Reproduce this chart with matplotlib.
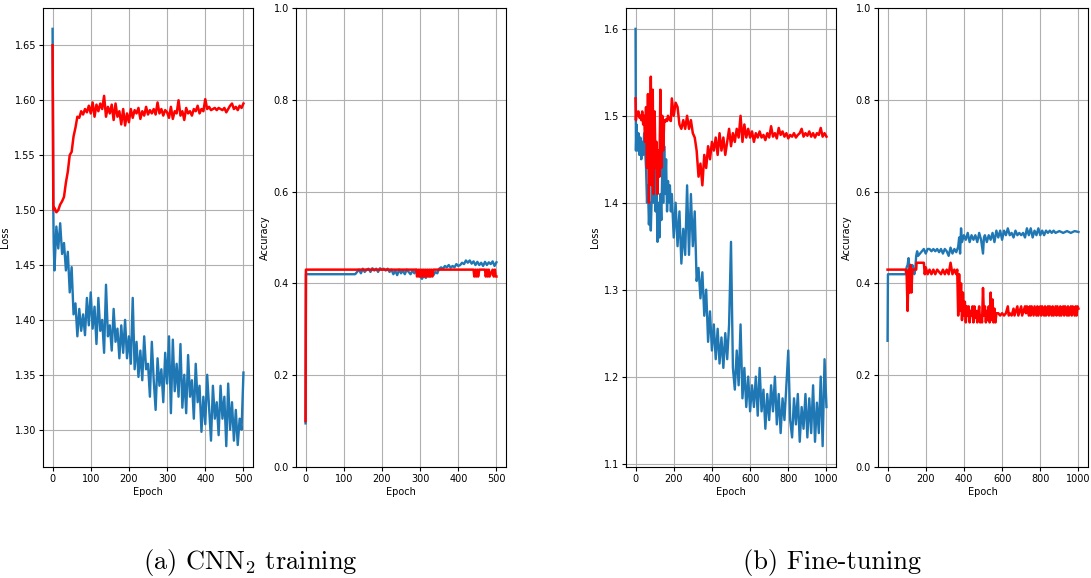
import matplotlib
matplotlib.use("Agg")
import matplotlib.pyplot as plt
from matplotlib.ticker import FormatStrFormatter

# (a) CNN2 training, loss
cnn_loss_head_x = [0, 1, 2, 3]
cnn_train_loss_head = [1.665, 1.60, 1.50, 1.47]
cnn_val_loss_head = [1.65, 1.58, 1.505, 1.50]
cnn_loss_step = 5
cnn_train_loss = [
    1.445, 1.485, 1.465, 1.488, 1.460, 1.470, 1.445, 1.462, 1.425, 1.448,
    1.405, 1.415, 1.385, 1.410, 1.390, 1.405, 1.386, 1.420, 1.395, 1.425,
    1.392, 1.412, 1.378, 1.420, 1.390, 1.400, 1.370, 1.432, 1.385, 1.395,
    1.372, 1.410, 1.380, 1.392, 1.365, 1.395, 1.370, 1.400, 1.365, 1.385,
    1.360, 1.420, 1.355, 1.380, 1.348, 1.372, 1.345, 1.385, 1.355, 1.360,
    1.330, 1.380, 1.345, 1.318, 1.365, 1.340, 1.355, 1.325, 1.370, 1.342,
    1.385, 1.315, 1.382, 1.335, 1.360, 1.330, 1.378, 1.320, 1.350, 1.315,
    1.368, 1.330, 1.345, 1.310, 1.360, 1.325, 1.340, 1.298, 1.330, 1.305,
    1.350, 1.320, 1.290, 1.340, 1.310, 1.325, 1.295, 1.340, 1.310, 1.330,
    1.285, 1.342, 1.300, 1.325, 1.290, 1.318, 1.286, 1.310, 1.300, 1.352,
]
cnn_val_loss = [
    1.502, 1.498, 1.500, 1.505, 1.508, 1.512, 1.525, 1.535, 1.550, 1.553,
    1.567, 1.575, 1.585, 1.584, 1.590, 1.587, 1.592, 1.589, 1.595, 1.588,
    1.598, 1.585, 1.596, 1.590, 1.597, 1.592, 1.604, 1.585, 1.594, 1.588,
    1.596, 1.582, 1.597, 1.585, 1.590, 1.578, 1.592, 1.577, 1.588, 1.580,
    1.592, 1.584, 1.591, 1.588, 1.593, 1.583, 1.590, 1.586, 1.594, 1.587,
    1.591, 1.588, 1.592, 1.587, 1.598, 1.588, 1.592, 1.586, 1.591, 1.589,
    1.584, 1.594, 1.583, 1.590, 1.588, 1.600, 1.586, 1.590, 1.582, 1.593,
    1.588, 1.590, 1.586, 1.592, 1.590, 1.595, 1.588, 1.592, 1.590, 1.601,
    1.592, 1.594, 1.591, 1.592, 1.593, 1.591, 1.593, 1.592, 1.591, 1.593,
    1.589, 1.592, 1.595, 1.597, 1.592, 1.594, 1.591, 1.595, 1.593, 1.597,
]

# (a) CNN2 training, accuracy
cnn_train_acc_x = [0, 1, 130] + list(range(135, 501, 5))
cnn_train_acc = [
    0.095, 0.42, 0.42,
    0.425, 0.430, 0.422, 0.432, 0.425, 0.430, 0.432, 0.425, 0.433, 0.428,
    0.432, 0.425, 0.433, 0.430, 0.432, 0.428, 0.432, 0.425, 0.430, 0.420,
    0.428, 0.418, 0.430, 0.422, 0.428, 0.420, 0.430, 0.425, 0.420, 0.428,
    0.422, 0.430, 0.420, 0.415, 0.410, 0.418, 0.412, 0.420, 0.415, 0.422,
    0.418, 0.425, 0.422, 0.432, 0.435, 0.432, 0.438, 0.435, 0.440, 0.434,
    0.438, 0.435, 0.442, 0.438, 0.440, 0.445, 0.442, 0.450, 0.445, 0.450,
    0.443, 0.448, 0.440, 0.447, 0.440, 0.445, 0.438, 0.447, 0.440, 0.446,
    0.442, 0.448, 0.438, 0.446,
]
cnn_val_acc_x = [
    0, 1, 290, 292, 295, 297, 300, 302, 305, 307, 310, 312, 315, 317, 320,
    322, 325, 327, 330, 332, 335, 440, 442, 445, 447, 450, 452, 455, 470,
    472, 475, 477, 480, 482, 490, 493, 496, 498, 500,
]
cnn_val_acc = [
    0.10, 0.43, 0.43, 0.415, 0.43, 0.415, 0.43, 0.415, 0.43, 0.415, 0.43,
    0.415, 0.43, 0.415, 0.43, 0.415, 0.43, 0.415, 0.43, 0.415, 0.43, 0.43,
    0.415, 0.43, 0.415, 0.43, 0.415, 0.43, 0.43, 0.415, 0.43, 0.415, 0.43,
    0.415, 0.43, 0.415, 0.43, 0.415, 0.415,
]

# (b) Fine-tuning, loss
ft_loss_x = [0, 2] + list(range(5, 191, 5)) + list(range(200, 1001, 10))
ft_train_loss = [
    1.600, 1.460,
    1.490, 1.460, 1.480, 1.455, 1.475, 1.450, 1.470, 1.455, 1.480, 1.462,
    1.440, 1.400, 1.420, 1.375, 1.400, 1.368, 1.410, 1.460, 1.400, 1.450,
    1.390, 1.420, 1.355, 1.400, 1.360, 1.410, 1.380, 1.440, 1.400, 1.465,
    1.410, 1.450, 1.390, 1.425, 1.400, 1.420, 1.390, 1.410,
    1.360, 1.400, 1.350, 1.390, 1.330, 1.370, 1.340, 1.420, 1.340, 1.410,
    1.350, 1.390, 1.310, 1.325, 1.290, 1.320, 1.270, 1.300, 1.240, 1.275,
    1.230, 1.260, 1.220, 1.255, 1.215, 1.245, 1.210, 1.250, 1.220, 1.260,
    1.355, 1.210, 1.185, 1.230, 1.190, 1.260, 1.175, 1.210, 1.165, 1.200,
    1.160, 1.190, 1.165, 1.200, 1.155, 1.210, 1.160, 1.185, 1.140, 1.180,
    1.150, 1.190, 1.160, 1.200, 1.145, 1.180, 1.135, 1.175, 1.150, 1.190,
    1.230, 1.150, 1.130, 1.175, 1.145, 1.180, 1.125, 1.165, 1.140, 1.180,
    1.130, 1.175, 1.135, 1.190, 1.125, 1.170, 1.135, 1.200, 1.120, 1.220,
    1.165,
]
ft_val_loss = [
    1.520, 1.495,
    1.505, 1.500, 1.505, 1.498, 1.500, 1.495, 1.505, 1.490, 1.500, 1.470,
    1.510, 1.440, 1.525, 1.400, 1.460, 1.545, 1.420, 1.530, 1.410, 1.505,
    1.440, 1.470, 1.410, 1.460, 1.430, 1.530, 1.440, 1.500, 1.460, 1.495,
    1.493, 1.496, 1.494, 1.500, 1.497, 1.495, 1.494, 1.520,
    1.500, 1.515, 1.510, 1.490, 1.485, 1.495, 1.485, 1.500, 1.485, 1.495,
    1.480, 1.475, 1.460, 1.430, 1.445, 1.420, 1.455, 1.440, 1.465, 1.450,
    1.470, 1.460, 1.475, 1.455, 1.480, 1.460, 1.475, 1.455, 1.470, 1.485,
    1.465, 1.480, 1.470, 1.485, 1.475, 1.500, 1.470, 1.490, 1.475, 1.485,
    1.475, 1.482, 1.470, 1.480, 1.475, 1.482, 1.475, 1.478, 1.472, 1.480,
    1.475, 1.488, 1.476, 1.480, 1.474, 1.486, 1.478, 1.482, 1.476, 1.480,
    1.474, 1.478, 1.476, 1.480, 1.475, 1.478, 1.480, 1.485, 1.476, 1.480,
    1.477, 1.482, 1.476, 1.480, 1.475, 1.480, 1.478, 1.486, 1.476, 1.480,
    1.476,
]

# (b) Fine-tuning, accuracy
ft_train_acc_x = [
    0, 2, 95, 100, 105, 110, 115, 120, 125, 130, 140, 145, 150, 155, 160,
    170, 180, 190, 200, 210, 220, 230, 240, 250, 260, 270, 280, 290, 300,
    310, 320, 330, 340, 350, 360, 370, 375, 380, 385, 390, 400, 410, 420,
    430, 440, 450, 460, 470, 480, 490, 500, 505, 510, 520, 530, 540, 550,
    560, 570, 580, 590, 600, 610, 620, 630, 640, 650, 660, 670, 680, 690,
    700, 710, 720, 730, 740, 750, 760, 770, 780, 790, 800, 810, 820, 830,
    840, 850, 860, 870, 880, 900, 920, 940, 960, 980, 1000,
]
ft_train_acc = [
    0.275, 0.42, 0.42, 0.435, 0.44, 0.455, 0.43, 0.44, 0.43, 0.44, 0.42,
    0.43, 0.46, 0.47, 0.46, 0.465, 0.47, 0.475, 0.465, 0.475, 0.475, 0.47,
    0.475, 0.47, 0.475, 0.468, 0.475, 0.465, 0.475, 0.47, 0.46, 0.478,
    0.465, 0.475, 0.468, 0.48, 0.50, 0.465, 0.52, 0.49, 0.505, 0.495, 0.51,
    0.49, 0.505, 0.495, 0.505, 0.49, 0.51, 0.495, 0.465, 0.50, 0.505, 0.49,
    0.505, 0.495, 0.51, 0.49, 0.515, 0.50, 0.515, 0.495, 0.515, 0.505,
    0.52, 0.505, 0.51, 0.50, 0.515, 0.505, 0.51, 0.505, 0.51, 0.50, 0.52,
    0.505, 0.52, 0.50, 0.515, 0.505, 0.52, 0.505, 0.515, 0.505, 0.515,
    0.51, 0.515, 0.51, 0.515, 0.51, 0.514, 0.51, 0.514, 0.51, 0.514, 0.512,
]
ft_val_acc_x = [
    0, 95, 100, 105, 110, 115, 120, 125, 130, 150, 152, 190, 195, 200, 210,
    220, 230, 240, 250, 260, 280, 290, 300, 310, 320, 330, 340, 350, 360,
    365, 370, 375, 380, 385, 390, 395, 400, 405, 410, 415, 420, 425, 430,
    435, 440, 445, 450, 455, 460, 465, 470, 475, 480, 485, 490, 495, 500,
    505, 510, 515, 520, 525, 530, 535, 540, 545, 550, 555, 560, 565, 570,
    580, 590, 600, 610, 620, 630, 635, 640, 650, 660, 665, 680, 685, 700,
    705, 720, 725, 730, 740, 745, 750, 755, 765, 770, 780, 785, 790, 800,
    805, 810, 820, 825, 830, 840, 845, 850, 860, 865, 870, 880, 885, 890,
    900, 905, 910, 920, 925, 930, 940, 945, 950, 960, 965, 970, 980, 985,
    990, 995, 1000,
]
ft_val_acc = [
    0.43, 0.43, 0.42, 0.34, 0.43, 0.38, 0.44, 0.38, 0.43, 0.43, 0.445,
    0.445, 0.42, 0.435, 0.42,
    0.43, 0.42, 0.43, 0.42, 0.43, 0.42, 0.43, 0.42, 0.43, 0.42, 0.445,
    0.42, 0.43, 0.42,
    0.43, 0.33, 0.42, 0.34, 0.40, 0.32, 0.38, 0.33, 0.36, 0.315, 0.35,
    0.33, 0.35, 0.315,
    0.34, 0.33, 0.35, 0.315, 0.35, 0.325, 0.34, 0.315, 0.335, 0.35, 0.315,
    0.33, 0.315, 0.39,
    0.33, 0.35, 0.315, 0.34, 0.32, 0.35, 0.315, 0.38, 0.32, 0.365, 0.315,
    0.345, 0.315, 0.335,
    0.335, 0.33, 0.335, 0.33, 0.335, 0.35, 0.33, 0.335, 0.33, 0.345, 0.33,
    0.35, 0.33, 0.35,
    0.33, 0.35, 0.335, 0.35, 0.33, 0.35, 0.33, 0.35, 0.33, 0.35, 0.33,
    0.35, 0.33, 0.35,
    0.33, 0.35, 0.33, 0.35, 0.33, 0.35, 0.33, 0.35, 0.33, 0.35, 0.33,
    0.35, 0.33, 0.35,
    0.33, 0.35, 0.33, 0.35, 0.33, 0.35, 0.33, 0.35, 0.33, 0.35, 0.33,
    0.35, 0.33, 0.35,
    0.33, 0.35, 0.345,
]

captions = [r"(a) CNN$_2$ training", "(b) Fine-tuning"]

plt.rcParams["mathtext.fontset"] = "cm"

fig = plt.figure(figsize=(10.91, 5.78), dpi=100)
W, H = 1091, 578
lefts = [43, 296, 626, 878]
axes = [fig.add_axes([l / W, (H - 467) / H, 210 / W, 459 / H]) for l in lefts]


def style(ax, ylabel):
    ax.grid(True)
    ax.set_xlabel("Epoch", fontsize=7, labelpad=2)
    ax.set_ylabel(ylabel, fontsize=7, labelpad=3)
    ax.tick_params(labelsize=7, length=3, pad=2)


blue = "tab:blue"

cnn_loss_x = cnn_loss_head_x + list(range(5, 501, cnn_loss_step))
ax = axes[0]
ax.plot(cnn_loss_x, cnn_train_loss_head + cnn_train_loss, color=blue, lw=1.7)
ax.plot(cnn_loss_x, cnn_val_loss_head + cnn_val_loss, color="red", lw=1.8)
ax.yaxis.set_major_formatter(FormatStrFormatter("%.2f"))
ax.set_xticks([0, 100, 200, 300, 400, 500])
style(ax, "Loss")

ax = axes[1]
ax.plot(cnn_train_acc_x, cnn_train_acc, color=blue, lw=1.7)
ax.plot(cnn_val_acc_x, cnn_val_acc, color="red", lw=1.8)
ax.set_ylim(0, 1)
ax.set_xticks([0, 100, 200, 300, 400, 500])
style(ax, "Accuracy")

ax = axes[2]
ax.plot(ft_loss_x, ft_train_loss, color=blue, lw=1.7)
ax.plot(ft_loss_x, ft_val_loss, color="red", lw=1.8)
ax.set_xticks([0, 200, 400, 600, 800, 1000])
style(ax, "Loss")

ax = axes[3]
ax.plot(ft_train_acc_x, ft_train_acc, color=blue, lw=1.7)
ax.plot(ft_val_acc_x, ft_val_acc, color="red", lw=1.8)
ax.set_ylim(0, 1)
ax.set_xticks([0, 200, 400, 600, 800, 1000])
style(ax, "Accuracy")

fig.text(250 / W, 1 - 563 / H, captions[0], fontsize=19, family="cmr10",
         ha="center", va="center")
fig.text(832 / W, 1 - 563 / H, captions[1], fontsize=19, family="cmr10",
         ha="center", va="center")

fig.savefig("out.png", dpi=100)
